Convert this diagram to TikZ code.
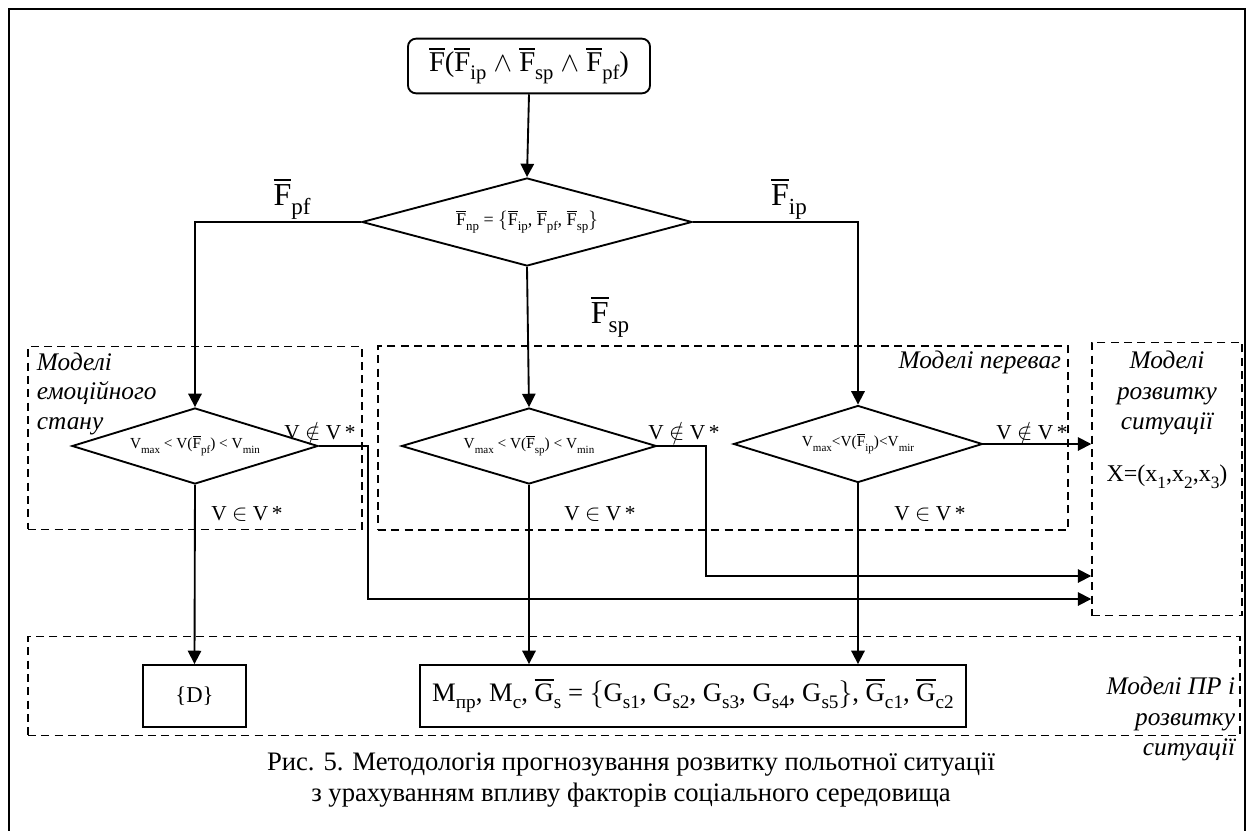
\documentclass[tikz,border=0pt]{standalone}
\usepackage{graphicx}
\usepackage{fontspec}
\setmainfont{Liberation Serif}
\usetikzlibrary{shapes.geometric,arrows.meta}
\newcommand\ob[1]{\leavevmode\vbox{\hrule height 0.06em\kern 0.1em\hbox{#1}}}
\newcommand\lo[1]{\raisebox{-0.28em}{\scalebox{0.72}{#1}}}
\newcommand\fsz[2]{\fontsize{#1}{#2}\selectfont}
\begin{document}
\begin{tikzpicture}[x=0.75pt,y=-0.75pt,
  line width=1.4pt,
  arr/.style={-{Triangle[length=10pt,width=10pt]}},
  dbox/.style={draw,line width=1.1pt,dash pattern=on 6pt off 4pt,inner sep=0pt},
  dia/.style={draw,diamond,inner sep=0pt,line width=1.4pt},
  sbox/.style={draw,rectangle,inner sep=0pt,line width=1.4pt},
  lbl/.style={inner sep=0pt,anchor=base,font=\fsz{16}{19}},
  ital/.style={inner sep=0pt,font=\fsz{19}{23}\itshape}]
\path[use as bounding box] (0,0) rectangle (1254,831);
\draw[line width=0.8pt] (9,840) -- (9,9) -- (1245,9) -- (1245,840);

% dashed model boxes
\node[dbox,minimum width=250.5pt,minimum height=137pt] (lbox) at (195,438) {};
\node[dbox,minimum width=517.5pt,minimum height=138pt] (mbox) at (723,438) {};
\node[dbox,minimum width=112.5pt,minimum height=205pt] (rbox) at (1167,479) {};
\node[dbox,minimum width=909pt,minimum height=74pt] (bbox) at (634,686) {};

% top box
\node[sbox,rounded corners=6pt,minimum width=181.5pt,minimum height=41pt,font=\fsz{21.5}{24}] (top) at (529,66)
  {\ob{F}(\ob{F}\lo{ip} $\wedge$ \ob{F}\lo{sp} $\wedge$ \ob{F}\lo{pf})};

% main diamond
\node[dia,shape aspect=3.75,minimum width=247.5pt,minimum height=66pt,font=\fsz{13.5}{16}] (dm) at (527,222)
  {\ob{F}\lo{np} = $\bigl\{$\ob{F}\lo{ip}, \ob{F}\lo{pf}, \ob{F}\lo{sp}$\bigr\}$};

% second-level diamonds
\node[dia,shape aspect=3.25,minimum width=184.5pt,minimum height=57pt,font=\fsz{11.5}{14}] (d1) at (195,446)
  {V\lo{max} < V(\ob{F}\lo{pf}) < V\lo{min}};
\node[dia,shape aspect=3.3,minimum width=191.25pt,minimum height=57pt,font=\fsz{11.5}{14}] (d2) at (529,446)
  {V\lo{max} < V(\ob{F}\lo{sp}) < V\lo{min}};
\node[dia,shape aspect=3.25,minimum width=186.75pt,minimum height=57.75pt,font=\fsz{11.5}{14}] (d3) at (858,444)
  {V\lo{max}<V(\ob{F}\lo{ip})<V\lo{mir}};

% result boxes
\node[sbox,minimum width=77.25pt,minimum height=46.5pt,font=\fsz{17}{20}] (dd) at (194.5,696) {\{D\}};
\node[sbox,minimum width=409.5pt,minimum height=46.5pt,font=\fsz{20}{23}] (big) at (693,696)
  {M\lo{пр}, M\lo{c}, \ob{G}\lo{s} = $\bigl\{$G\lo{s1}, G\lo{s2}, G\lo{s3}, G\lo{s4}, G\lo{s5}$\bigr\}$, \ob{G}\lo{c1}, \ob{G}\lo{c2}};

% connectors
\draw[arr] (top.south) -- (dm.north);
\draw[arr] (dm.west) -| (d1.north);
\draw[arr] (dm.east) -| (d3.north);
\draw[arr] (dm.south) -- (d2.north);
\draw[arr] (d1.south) -- (dd.north);
\draw[arr] (d2.south) -- (d2.south |- big.north);
\draw[arr] (d3.south) -- (d3.south |- big.north);
\coordinate (k1) at (368,599);
\coordinate (k2) at (706,576);
\draw[arr] (d1.east) -| (k1) -- (k1 -| rbox.west);
\draw[arr] (d2.east) -| (k2) -- (k2 -| rbox.west);
\draw[arr] (d3.east) -- (d3.east -| rbox.west);

% branch labels
\node[inner sep=0pt,font=\fsz{24}{27}] (lpf) at (292,199) {\ob{F}\lo{pf}};
\node[inner sep=0pt,font=\fsz{24}{27}] (lip) at (789,199) {\ob{F}\lo{ip}};
\node[inner sep=0pt,font=\fsz{24}{27}] (lsp) at (610,317) {\ob{F}\lo{sp}};

% condition labels
\node[lbl] (n1) at (320,439) {V $\notin$ V\,*};
\node[lbl] (n2) at (684,439) {V $\notin$ V\,*};
\node[lbl] (n3) at (1032,439) {V $\notin$ V\,*};
\node[lbl] (y1) at (247,520) {V $\in$ V\,*};
\node[lbl] (y2) at (600,520) {V $\in$ V\,*};
\node[lbl] (y3) at (930,520) {V $\in$ V\,*};

% model labels
\node[ital,anchor=north west,align=left,font=\fsz{19}{22}\itshape] (t1) at (36,352) {Моделі\\емоційного\\стану};
\node[ital,anchor=north east,align=right] (t2) at (1062,350) {Моделі переваг};
\node[ital,anchor=north,align=center] (t3) at (1167,350) {Моделі\\розвитку\\ситуації};
\node[inner sep=0pt,font=\fsz{18}{20}] (xv) at (1167,477) {X=(x\lo{1},x\lo{2},x\lo{3})};
\node[ital,anchor=north east,align=right] (t4) at (1236,676) {Моделі ПР і\\розвитку\\ситуації};

% caption
\node[inner sep=0pt,align=center,font=\fsz{20}{23}] (cap) at (631,780)
  {Рис. 5. Методологія прогнозування розвитку польотної ситуації\\з урахуванням впливу факторів соціального середовища};
\end{tikzpicture}
\end{document}
